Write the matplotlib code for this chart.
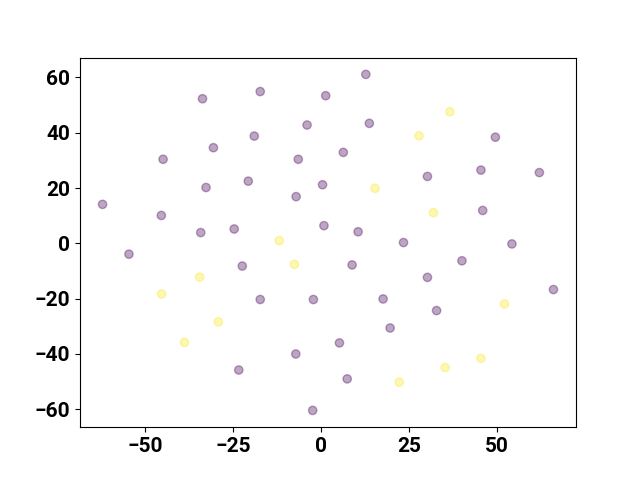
import numpy as np
import matplotlib
matplotlib.use("Agg")
import matplotlib.pyplot as plt

plt.rcParams['font.family'] = ['Roboto', 'DejaVu Sans']
plt.rcParams['font.weight'] = 'bold'

# embedding coordinates, label 0 = purple, 1 = yellow
x = [-33.7, -17.3, 1.3, -4.0, -19.0, -30.6, -44.9, -6.5, -20.7, -32.7,
     0.4, -7.1, -62.1, -45.4, 0.8, -34.2, -24.7, -11.9, 12.7, 36.6,
     13.7, 27.8, 49.5, 6.3, 45.4, 62.0, 30.2, 15.3, 45.9, 31.9,
     10.5, 23.4, 54.2, -54.6, -22.4, -7.6, -34.5, -45.3, -17.3, -2.2,
     -29.2, -38.8, -7.2, -23.4, -2.4, 8.8, 40.0, 30.2, 66.0, 17.6,
     52.1, 32.8, 19.6, 5.2, 45.4, 35.2, 7.4, 22.2]
y = [52.3, 54.9, 53.4, 42.8, 38.8, 34.6, 30.4, 30.4, 22.5, 20.2,
     21.2, 16.9, 14.1, 10.1, 6.4, 3.9, 5.2, 1.0, 61.1, 47.6,
     43.4, 38.9, 38.4, 32.9, 26.5, 25.6, 24.2, 19.9, 11.9, 11.1,
     4.2, 0.3, -0.2, -3.9, -8.2, -7.6, -12.2, -18.3, -20.3, -20.3,
     -28.4, -35.8, -40.0, -45.8, -60.4, -7.8, -6.3, -12.3, -16.7, -20.1,
     -21.9, -24.3, -30.6, -36.0, -41.6, -44.9, -49.0, -50.2]
label = [0, 0, 0, 0, 0, 0, 0, 0, 0, 0,
         0, 0, 0, 0, 0, 0, 0, 1, 0, 1,
         0, 1, 0, 0, 0, 0, 0, 1, 0, 1,
         0, 0, 0, 0, 0, 1, 1, 1, 0, 0,
         1, 1, 0, 0, 0, 0, 0, 0, 0, 0,
         1, 0, 0, 0, 1, 1, 0, 1]

fig, ax = plt.subplots(figsize=(6.4, 4.8), dpi=100)
ax.scatter(x, y, c=label, cmap="viridis", alpha=0.35)
ax.tick_params(labelsize=15)
plt.savefig("out.png")
